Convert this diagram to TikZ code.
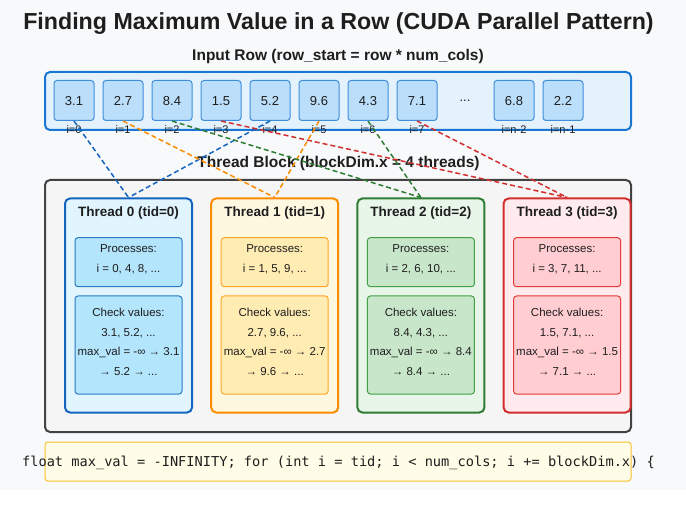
\documentclass[tikz,border=0pt]{standalone}
\usepackage{fontspec}
\setmainfont{Liberation Sans}
\setmonofont{DejaVu Sans Mono}

\definecolor{pagebg}{HTML}{F8F9FA}
\definecolor{ink}{HTML}{1E1E1E}
\definecolor{rowline}{HTML}{1976D2}
\definecolor{rowfill}{HTML}{E3F2FD}
\definecolor{cellline}{HTML}{3D8EDB}
\definecolor{cellfill}{HTML}{BBDEFB}
\definecolor{blockline}{HTML}{424242}
\definecolor{blockfill}{HTML}{F5F5F5}
\definecolor{codeline}{HTML}{FBC02D}
\definecolor{codefill}{HTML}{FFFDE7}
% thread colours
\definecolor{tline0}{HTML}{1565C0}
\definecolor{tfill0}{HTML}{E1F5FE}
\definecolor{iline0}{HTML}{2A7BC4}
\definecolor{ifill0}{HTML}{B3E5FC}
\definecolor{tline1}{HTML}{FB8C00}
\definecolor{tfill1}{HTML}{FFF8E1}
\definecolor{iline1}{HTML}{FFA726}
\definecolor{ifill1}{HTML}{FFECB3}
\definecolor{tline2}{HTML}{2E7D32}
\definecolor{tfill2}{HTML}{E8F5E9}
\definecolor{iline2}{HTML}{43A047}
\definecolor{ifill2}{HTML}{C8E6C9}
\definecolor{tline3}{HTML}{D32F2F}
\definecolor{tfill3}{HTML}{FFEBEE}
\definecolor{iline3}{HTML}{E53935}
\definecolor{ifill3}{HTML}{FFCDD2}

\tikzset{
	titletext/.style={text=ink, inner sep=0pt, font=\bfseries\fontsize{23.2}{26}\selectfont},
	headtext/.style={text=ink, inner sep=0pt, font=\bfseries\fontsize{15.5}{18}\selectfont},
	rowbox/.style={draw=rowline, fill=rowfill, line width=2pt, rounded corners=5pt,
		minimum width=586pt, minimum height=58pt, inner sep=0pt},
	cell/.style={draw=cellline, fill=cellfill, line width=1pt, rounded corners=3pt,
		minimum width=40pt, minimum height=40pt, inner sep=0pt, text=ink,
		text height=9.4pt, text depth=0pt, font=\fontsize{13}{15}\selectfont},
	idx/.style={text=ink, inner sep=0pt, font=\fontsize{11}{13}\selectfont},
	blockbox/.style={draw=blockline, fill=blockfill, line width=2pt, rounded corners=5pt,
		minimum width=586pt, minimum height=252pt, inner sep=0pt},
	thread/.style={line width=2pt, rounded corners=5pt,
		minimum width=127pt, minimum height=214pt, inner sep=0pt},
	threadtitle/.style={text=ink, inner sep=0pt, font=\bfseries\fontsize{13.5}{16}\selectfont},
	inbox/.style={line width=1pt, rounded corners=3pt, minimum width=107pt, inner sep=0pt},
	intext/.style={text=ink, inner sep=0pt, align=center, font=\fontsize{11.5}{19.5}\selectfont},
	link/.style={line width=1.5pt, dash pattern=on 5pt off 3pt},
	codebox/.style={draw=codeline, fill=codefill, line width=1pt, rounded corners=3pt,
		minimum width=586pt, minimum height=39pt, inner sep=0pt},
	codetext/.style={text=ink, inner sep=0pt, font=\ttfamily\fontsize{13.65}{16}\selectfont}
}

\begin{document}
\begin{tikzpicture}[x=1pt,y=-1pt]
	\fill[pagebg] (0,0) rectangle (686,490);
	\useasboundingbox (0,0) rectangle (686,505);

	\node[titletext] (title) at (338.5,24) {Finding Maximum Value in a Row (CUDA Parallel Pattern)};
	\node[headtext] (rowhead) at (338,56) {Input Row (row\_start = row * num\_cols)};

	% the row
	\node[rowbox] (row) at (338,101) {};
	\foreach \v [count=\k from 0] in {3.1,2.7,8.4,1.5,5.2,9.6,4.3,7.1}
	    {
		\node[cell] (c\k) at (74+49*\k,100.5) {\v};
		\node[idx] (l\k) at (74+49*\k,130) {i=\k};
	    }
	\node[idx, font=\fontsize{13}{15}\selectfont] (dots) at (465,100.5) {...};
	\node[cell] (c8) at (514,100.5) {6.8};
	\node[idx] (l8) at (514,130) {i=n-2};
	\node[cell] (c9) at (563,100.5) {2.2};
	\node[idx] (l9) at (563,130) {i=n-1};

	% the block
	\node[headtext] (blockhead) at (338.5,163) {Thread Block (blockDim.x = 4 threads)};
	\node[blockbox] (block) at (338,306) {};

	\foreach \t/\ids/\vals/\a/\b in {0/{0, 4, 8}/{3.1, 5.2}/3.1/5.2,
	                                 1/{1, 5, 9}/{2.7, 9.6}/2.7/9.6,
	                                 2/{2, 6, 10}/{8.4, 4.3}/8.4/8.4,
	                                 3/{3, 7, 11}/{1.5, 7.1}/1.5/7.1}
	    {
		\pgfmathsetmacro{\cx}{128.5+146.2*\t}%
		\node[thread, draw=tline\t, fill=tfill\t] (t\t) at (\cx,305.5) {};
		\node[threadtitle] (h\t) at (\cx,213.5) {Thread \t\ (tid=\t)};
		\node[inbox, draw=iline\t, fill=ifill\t, minimum height=49pt] (p\t) at (\cx,262.2) {};
		\node[intext] (pt\t) at (\cx,259.5) {Processes:\\i = \ids, ...};
		\node[inbox, draw=iline\t, fill=ifill\t, minimum height=98pt] (v\t) at (\cx,345) {};
		\node[intext] (vt\t) at (\cx,342) {Check values:\\\vals, ...\\max\_val = -∞ → \a\\→ \b\ → ...};
	    }

	% which thread reads which element
	\foreach \t/\a/\b in {0/0/4, 1/1/5, 2/2/6, 3/3/7}
	    {
		\draw[link, tline\t] (c\a.south) -- (t\t.north);
		\draw[link, tline\t] (c\b.south) -- (t\t.north);
	    }

	% loop header
	\node[codebox] (codebg) at (338,461.5) {};
	\node[codetext] (code) at (338.5,463) {float max\_val = -INFINITY; for (int i = tid; i < num\_cols; i += blockDim.x) \{};
\end{tikzpicture}
\end{document}
